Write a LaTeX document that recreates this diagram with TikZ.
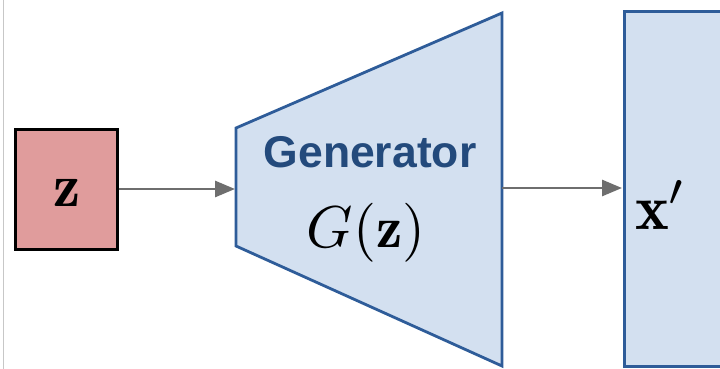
\documentclass[tikz,border=0pt]{standalone}
\usepackage{graphicx}
\usepackage{fontspec}
\setsansfont{Liberation Sans}
\usetikzlibrary{arrows.meta}
\definecolor{zfill}{HTML}{E09C9C}
\definecolor{gfill}{HTML}{D3E0F0}
\definecolor{gdraw}{HTML}{2E5C99}
\definecolor{gtext}{HTML}{234A7C}
\definecolor{arr}{HTML}{6E6E6E}
\tikzset{
  conn/.style={draw=arr, line width=2.8pt, -{Triangle[length=20pt,width=16pt]}, shorten >=1pt},
  bluebox/.style={fill=gfill, draw=gdraw, line width=2.8pt, line join=miter},
}
\begin{document}
\begin{tikzpicture}[x=1pt,y=-1pt]
\useasboundingbox (0,0) rectangle (720,369);
\clip (0,0) rectangle (720,369);
\fill[white] (0,0) rectangle (720,369);
\draw[color=black!22, line width=1pt] (3,0) -- (3,369);
% z box
\node[draw=black, fill=zfill, line width=2.8pt, minimum width=102pt, minimum height=120pt, inner sep=0pt] (z) at (66.5,189.5) {};
\node[inner sep=0pt] (zl) at (67,193) {\scalebox{6.1}{$\mathbf{z}$}};
% generator trapezoid
\coordinate (g1) at (236,128);
\coordinate (g2) at (502,13);
\coordinate (g3) at (502,366);
\coordinate (g4) at (236,246);
\draw[bluebox] (g1) -- (g2) -- (g3) -- (g4) -- cycle;
\coordinate (gin) at (236,189);
\coordinate (gout) at (502,188);
\node[text=gtext, font=\sffamily\bfseries\fontsize{44.5}{46}\selectfont, inner sep=0pt] (gen) at (370,152) {Generator};
\node[inner sep=0pt] (gz) at (366,233) {\scalebox{5.9}{$G(\mathbf{z})$}};
% x' box
\node[bluebox, minimum width=140pt, minimum height=355pt, inner sep=0pt, anchor=north west] (x) at (623,10) {};
\node[inner sep=0pt] (xl) at (661,205) {\scalebox{6.4}{$\mathbf{x}'$}};
\coordinate (xin) at (623,188);
% connectors
\draw[conn] (z.east |- gin) -- (gin);
\draw[conn] (gout) -- (xin);
\end{tikzpicture}
\end{document}
